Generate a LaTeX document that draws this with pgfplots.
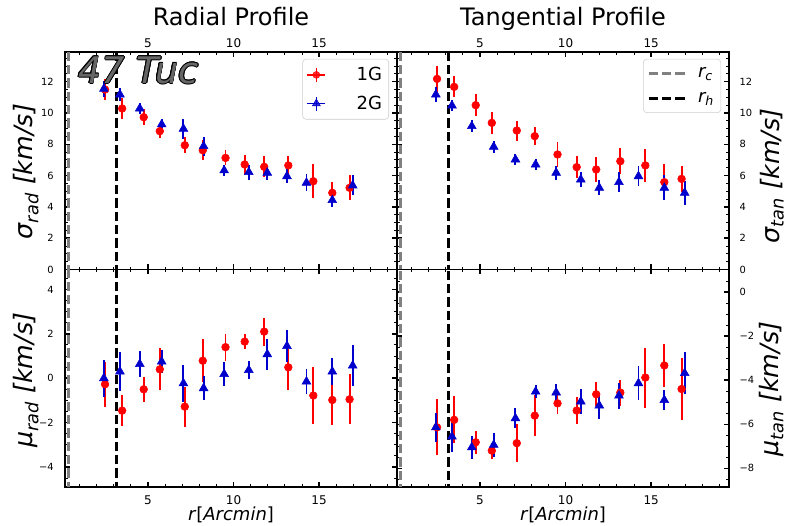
\documentclass[border=0pt]{standalone}
\usepackage{fontspec}
\setmainfont{DejaVu Sans}
\usepackage{pgfplots}
\pgfplotsset{compat=1.18}

\definecolor{c1}{RGB}{255,0,0}
\definecolor{c2}{RGB}{0,0,205}
\definecolor{rcgray}{RGB}{128,128,128}
\definecolor{tucgray}{RGB}{102,102,102}

\tikzset{ylab/.style={font=\fontsize{19}{21}\selectfont, anchor=center}}

\pgfplotsset{
  panel/.style={
    scale only axis, width=249pt, height=163.125pt,
    anchor=north west,
    xmin=0.15, xmax=19.55,
    xtick={5,10,15}, minor xtick={1,2,...,19},
    tick align=inside,
    major tick length=3.75pt, minor tick length=2.2pt,
    every major tick/.style={black, line width=1.1pt},
    every minor tick/.style={black, line width=0.7pt},
    axis line style={line width=1.1pt},
    /pgf/number format/assume math mode=true,
    xticklabel style={font=\fontsize{9}{10}\selectfont},
    yticklabel style={font=\fontsize{7.4}{8}\selectfont},
    legend style={draw=black!20, rounded corners=2.5pt, fill=white,
      fill opacity=0.8, text opacity=1, font=\fontsize{13.5}{15}\selectfont,
      inner xsep=3pt, inner ysep=4pt, row sep=6pt, cells={anchor=west}},
  },
  toppanel/.style={panel, ymin=0, ymax=13.9, ytick={0,2,...,12},
    minor ytick={0,0.5,...,13.5}, xticklabel pos=top, xtick pos=both},
  g1/.style={only marks, mark=*, mark size=2.9pt, color=c1,
    mark options={fill=c1, draw=c1},
    legend image code/.code={
      \draw[c1, line width=1pt] (10.5pt,0pt) -- (24pt,0pt);
      \draw[c1, line width=1pt] (17.25pt,-5.2pt) -- (17.25pt,5.2pt);
      \fill[c1] (17.25pt,0pt) circle (2.6pt);
    },
    error bars/y dir=both, error bars/y explicit, error bars/error mark=none,
    error bars/error bar style={line width=1.4pt, c1}},
  g2/.style={only marks, mark=triangle*, mark size=3.8pt, color=c2,
    mark options={fill=c2, draw=c2},
    legend image code/.code={
      \draw[c2, line width=1pt] (10.5pt,0pt) -- (24pt,0pt);
      \draw[c2, line width=1pt] (17.25pt,-5.2pt) -- (17.25pt,5.2pt);
      \draw[c2, fill=c2] plot[mark=triangle*, mark size=3.4pt, only marks] coordinates {(17.25pt,0pt)};
    },
    error bars/y dir=both, error bars/y explicit, error bars/error mark=none,
    error bars/error bar style={line width=1.4pt, c2}},
  vline/.style={line width=2pt, dash pattern=on 7pt off 3pt,
    legend image code/.code={\draw[##1] (2pt,0pt) -- (29pt,0pt);}},
}

\begin{document}
\begin{tikzpicture}
\useasboundingbox (0pt,0pt) rectangle (591.75pt,-393.75pt);

% ---------------- top left: radial dispersion
\begin{axis}[toppanel, at={(48.75pt,-39pt)},
  ytick pos=both,
  yticklabel style={xshift=-5pt},
  title={Radial Profile},
  title style={font=\fontsize{18}{20}\selectfont, at={(axis description cs:0.5,1)}, anchor=base, yshift=14pt},
  ylabel={\itshape σ\textsubscript{rad} [km/s]},
  ylabel style={ylab, at={(axis description cs:-0.117,0.45)}},
  legend style={at={(0.976,0.968)}, anchor=north east,
    /tikz/every odd column/.append style={column sep=21pt}},
]
\addplot[forget plot, vline, rcgray] coordinates {(0.36,-100) (0.36,100)};
\addplot[forget plot, vline, black] coordinates {(3.17,-100) (3.17,100)};
\addplot[g1] table[x=x, y=y, y error=e] {
x y e
2.49 11.50 0.70
3.49 10.29 0.65
4.75 9.73 0.50
5.69 8.84 0.45
7.15 7.94 0.50
8.20 7.62 0.65
9.53 7.13 0.48
10.65 6.71 0.58
11.79 6.56 0.67
13.20 6.65 0.62
14.66 5.64 1.08
15.77 4.90 0.66
16.78 5.22 0.79
};
\addlegendentry{1G}
\addplot[g2] table[x=x, y=y, y error=e] {
x y e
2.42 11.54 0.53
3.36 11.18 0.43
4.52 10.29 0.37
5.80 9.27 0.32
7.07 8.99 0.64
8.25 7.88 0.60
9.45 6.33 0.37
10.89 6.22 0.48
11.97 6.18 0.45
13.12 5.96 0.45
14.26 5.54 0.55
15.77 4.43 0.43
16.96 5.37 0.64
};
\addlegendentry{2G}
\end{axis}

% ---------------- top right: tangential dispersion
\begin{axis}[toppanel, at={(297.75pt,-39pt)},
  yticklabel pos=right, ytick pos=both,
  yticklabel style={xshift=4.5pt},
  title={Tangential Profile},
  title style={font=\fontsize{18}{20}\selectfont, at={(axis description cs:0.5,1)}, anchor=base, yshift=14pt},
  ylabel={\itshape σ\textsubscript{tan} [km/s]},
  ylabel style={ylab, at={(axis description cs:1.129,0.43)}},
  legend style={at={(0.976,0.968)}, anchor=north east,
    /tikz/every odd column/.append style={column sep=7pt}},
]
\addplot[vline, rcgray] coordinates {(0.36,-100) (0.36,100)};
\addlegendentry{\itshape r\textsubscript{c}}
\addplot[vline, black] coordinates {(3.17,-100) (3.17,100)};
\addlegendentry{\itshape r\textsubscript{h}}
\addplot[forget plot, g1] table[x=x, y=y, y error=e] {
x y e
2.49 12.18 0.82
3.49 11.67 0.67
4.75 10.50 0.69
5.69 9.37 0.69
7.15 8.88 0.64
8.20 8.52 0.56
9.53 7.35 0.80
10.65 6.54 0.72
11.79 6.39 0.78
13.20 6.92 0.82
14.66 6.65 1.04
15.77 5.58 1.14
16.78 5.79 0.85
};
\addplot[forget plot, g2] table[x=x, y=y, y error=e] {
x y e
2.42 11.18 0.50
3.36 10.48 0.37
4.52 9.16 0.40
5.80 7.84 0.37
7.07 7.03 0.35
8.25 6.71 0.37
9.45 6.18 0.45
10.89 5.75 0.48
11.97 5.22 0.48
13.12 5.58 0.66
14.26 5.96 0.64
15.77 5.22 0.79
16.96 4.90 0.75
};
\end{axis}

% ---------------- bottom left: radial mean
\begin{axis}[panel, at={(48.75pt,-202.125pt)},
  ymin=-4.9, ymax=4.9, ytick={-4,-2,0,2,4}, yticklabels={−4,−2,0,2,4},
  minor ytick={-4.5,-4,...,4.5}, xtick pos=both, ytick pos=both,
  yticklabel style={xshift=-5pt}, xticklabel style={yshift=-3pt},
  ylabel={\itshape μ\textsubscript{rad} [km/s]},
  ylabel style={ylab, at={(axis description cs:-0.117,0.49)}},
  xlabel={\textit{r}[\textit{Arcmin}]},
  xlabel style={font=\fontsize{13.5}{15}\selectfont, at={(axis description cs:0.5,0)}, anchor=base, yshift=-25pt},
]
\addplot[vline, rcgray] coordinates {(0.36,-100) (0.36,100)};
\addplot[vline, black] coordinates {(3.17,-100) (3.17,100)};
\addplot[g1] table[x=x, y=y, y error=e] {
x y e
2.49 -0.27 1.02
3.49 -1.46 0.71
4.75 -0.50 0.56
5.69 0.40 0.95
7.15 -1.28 0.90
8.20 0.79 0.98
9.53 1.40 0.61
10.65 1.65 0.34
11.79 2.10 0.63
13.20 0.49 1.04
14.66 -0.78 1.28
15.77 -0.98 1.11
16.78 -0.95 1.13
};
\addplot[g2] table[x=x, y=y, y error=e] {
x y e
2.42 0.00 0.84
3.36 0.30 0.87
4.52 0.64 0.58
5.80 0.75 0.53
7.07 -0.23 0.83
8.25 -0.45 0.54
9.45 0.19 0.53
10.89 0.37 0.39
11.97 1.08 0.71
13.12 1.45 0.73
14.26 -0.15 0.56
15.77 0.30 0.60
16.96 0.57 0.94
};
\end{axis}

% ---------------- bottom right: tangential mean
\begin{axis}[panel, at={(297.75pt,-202.125pt)},
  ymin=-8.85, ymax=1.03, ytick={-8,-6,-4,-2,0}, yticklabels={−8,−6,−4,−2,0},
  minor ytick={-8.5,-8,...,0.5}, xtick pos=both,
  yticklabel pos=right, ytick pos=both,
  yticklabel style={xshift=4.5pt}, xticklabel style={yshift=-3pt},
  ylabel={\itshape μ\textsubscript{tan} [km/s]},
  ylabel style={ylab, at={(axis description cs:1.129,0.45)}},
  xlabel={\textit{r}[\textit{Arcmin}]},
  xlabel style={font=\fontsize{13.5}{15}\selectfont, at={(axis description cs:0.5,0)}, anchor=base, yshift=-25pt},
]
\addplot[vline, rcgray] coordinates {(0.36,-100) (0.36,100)};
\addplot[vline, black] coordinates {(3.17,-100) (3.17,100)};
\addplot[g1] table[x=x, y=y, y error=e] {
x y e
2.49 -6.14 1.27
3.49 -5.80 1.06
4.75 -6.82 0.53
5.69 -7.20 0.36
7.15 -6.86 0.86
8.20 -5.61 0.92
9.53 -5.05 0.50
10.65 -5.38 0.62
11.79 -4.64 0.55
13.20 -4.56 0.59
14.66 -3.88 1.36
15.77 -3.33 0.96
16.78 -4.40 1.43
};
\addplot[g2] table[x=x, y=y, y error=e] {
x y e
2.42 -6.14 0.66
3.36 -6.56 0.71
4.52 -7.05 0.51
5.80 -6.94 0.53
7.07 -5.73 0.45
8.25 -4.52 0.29
9.45 -4.56 0.40
10.89 -4.97 0.55
11.97 -5.15 0.59
13.12 -4.70 0.59
14.26 -4.14 0.78
15.77 -4.90 0.47
16.96 -3.68 0.96
};
\end{axis}

% cluster name, gray with a black outline
\foreach \a in {0,30,...,330}
  \node[anchor=base west, inner sep=0pt, black, font=\fontsize{27.5}{29}\selectfont\itshape,
        xshift={0.5pt*cos(\a)}, yshift={0.5pt*sin(\a)}] at (58.5pt,-62.5pt) {47 Tuc};
\node[anchor=base west, inner sep=0pt, tucgray, font=\fontsize{27.5}{29}\selectfont\itshape] at (58.5pt,-62.5pt) {47 Tuc};
\end{tikzpicture}
\end{document}
